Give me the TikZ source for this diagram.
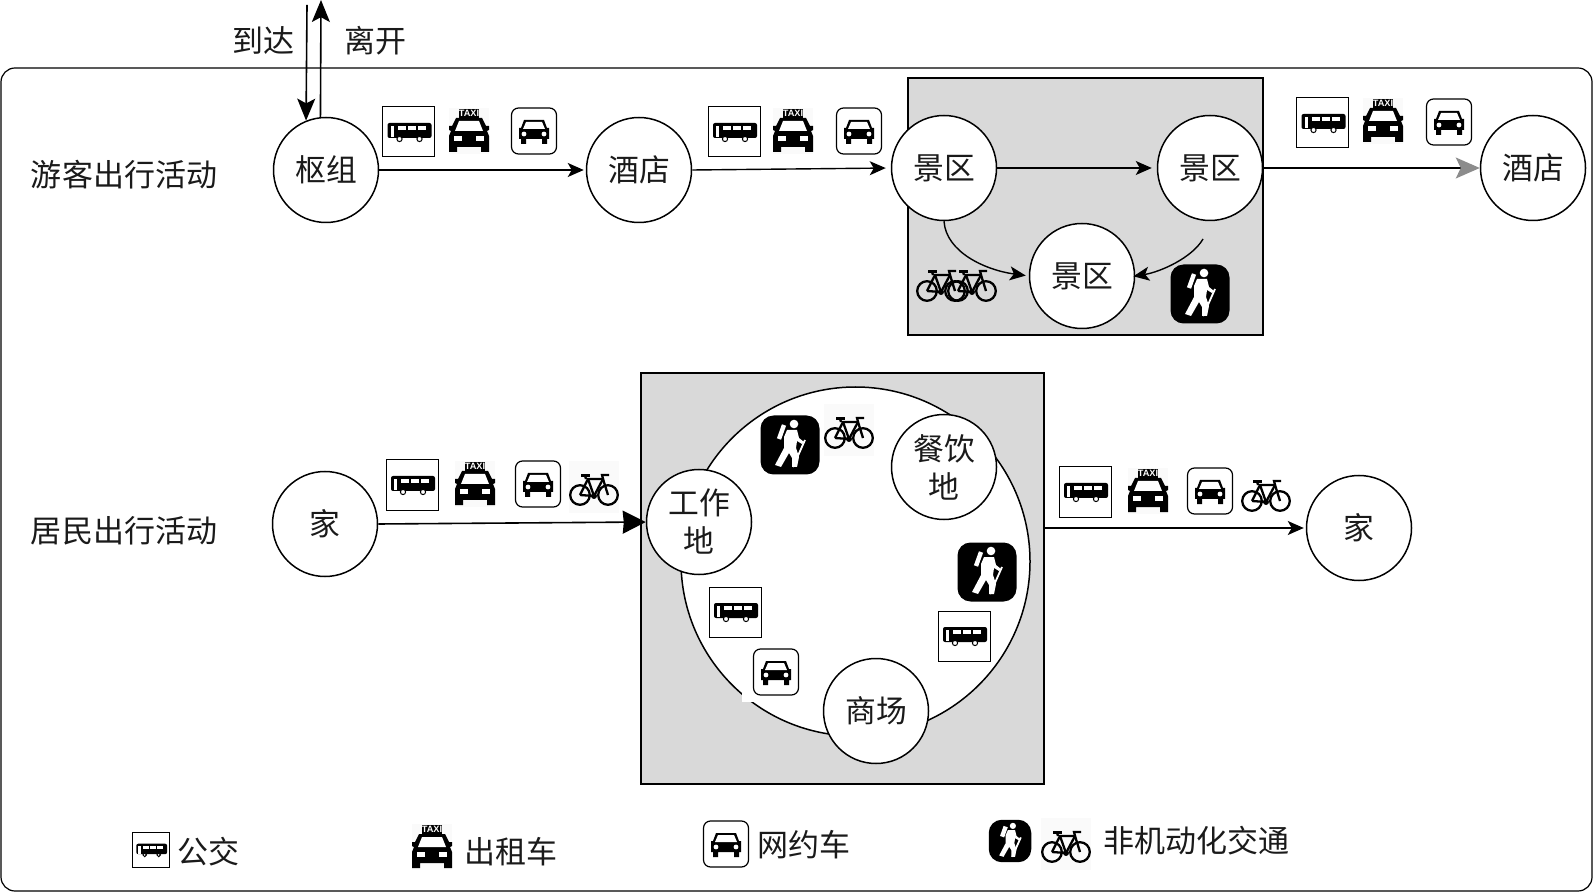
\documentclass[tikz,border=0pt]{standalone}
\usepackage{fontspec}
\setmainfont{Noto Sans CJK SC}
\newfontfamily\latinbold{Liberation Sans}[BoldFont={Liberation Sans Bold}]
\usetikzlibrary{arrows.meta,calc}
\definecolor{boxgray}{HTML}{D9D9D9}
\definecolor{inktext}{HTML}{1A1A1A}
\tikzset{
  x=0.5pt,y=-0.5pt,
  place/.style={circle,draw=black,fill=white,line width=0.75pt,minimum size=52.5pt,inner sep=0pt,align=center,font=\fontsize{15.4}{19}\selectfont,text=inktext},
  rowlabel/.style={inner sep=0pt,font=\fontsize{15.5}{18}\selectfont,text=inktext},
  arrow/.style={line width=0.7pt,-{Stealth[length=8pt,width=7pt,inset=2pt]}},
  bigarrow/.style={line width=0.8pt,-{Stealth[length=11pt,width=9pt,inset=2.4pt]}},
  hugearrow/.style={line width=0.8pt,-{Stealth[length=11.5pt,width=11.5pt,inset=0.5pt]}},
  grayarrow/.style={line width=0.7pt,-{Stealth[length=12pt,width=10.5pt,inset=2.5pt,color=gray!90]}},
  zone/.style={draw=black,fill=boxgray,line width=0.75pt,inner sep=0pt},
  busicon/.pic={
    \draw[black,line width=0.5pt,fill=white] (-26,-25) rectangle (26,25);
    \fill[black,rounded corners=1pt] (-21,-9) rectangle (23,6);
    \fill[white] (-18,-6) rectangle (-15,5);
    \fill[white] (-11,-6) rectangle (-3,-2);
    \fill[white] (-1,-6) rectangle (7,-2);
    \fill[white] (9,-6) rectangle (17,-2);
    \draw[black,fill=white,line width=0.5pt] (-9,7) circle (2.6);
    \draw[black,fill=white,line width=0.5pt] (11,7) circle (2.6);
  },
  taxiicon/.pic={
    \fill[black!2] (-20,-22) rectangle (20,24);
    \fill[black] (-10,-21) rectangle (10,-12);
    \node[inner sep=0pt,text=white,font=\latinbold\bfseries\fontsize{4.6}{4.6}\selectfont] (-lbl) at (0,-16.5) {TAXI};
    \fill[black] (-13,-12)--(13,-12)--(17,-4)--(20,-4)--(20,0)--(18,1)--(20,6)--(20,22)--(12,22)--(12,17)--(-12,17)--(-12,22)--(-20,22)--(-20,6)--(-18,1)--(-20,0)--(-20,-4)--(-17,-4)--cycle;
    \fill[white] (-10,-9)--(10,-9)--(14,1)--(-14,1)--cycle;
    \fill[white] (-15,6) rectangle (-7,11);
    \fill[white] (7,6) rectangle (15,11);
  },
  caricon/.pic={
    \draw[black,fill=white,line width=0.6pt,rounded corners=3.5pt] (-22.5,-23) rectangle (22.5,23);
    \fill[black] (-10,-11)--(10,-11)--(13,-3)--(15,-3)--(15,8)--(13,8)--(13,13)--(8,13)--(8,8)--(-8,8)--(-8,13)--(-13,13)--(-13,8)--(-15,8)--(-15,-3)--(-13,-3)--cycle;
    \fill[white] (-8,-9)--(8,-9)--(11,-2)--(-11,-2)--cycle;
    \fill[white] (-10,3) circle (2.4);
    \fill[white] (10,3) circle (2.4);
  },
  bikeicon/.pic={
    \begin{scope}[line width=1.15pt,draw=black]
    \draw (-14,8) circle (9.8);
    \draw (14,8) circle (9.8);
    \draw (-14,8)--(-6,-8)--(9,-8)--(14,8);
    \draw (-14,8)--(0,9)--(9,-8);
    \draw (-6,-8)--(0,9);
    \draw (-8,-8)--(-9,-11.5);
    \draw (-13,-11.5)--(-4,-11.5);
    \draw (9,-8)--(8,-12)--(15,-12);
    \fill[black] (0,9) circle (3);
    \end{scope}
  },
  graybg/.pic={\fill[black!2] (-25,-26) rectangle (25,26);},
  hikericon/.pic={
    \fill[black,rounded corners=6.5pt] (-29.5,-29.5) rectangle (29.5,29.5);
    \fill[white] (4,-21) circle (4.3);
    \fill[white] (-3,-15)--(7,-15)--(9,-7)--(14,-3)--(12,-1)--(7,-4)--(6,3)--(9,12)--(7,22)--(2,22)--(2,13)--(-1,8)--(-9,22)--(-15,20)--(-6,3)--(-6,-8)--cycle;
    \draw[white,line width=0.9pt] (15,-5)--(3,22);
    \draw[white,line width=2.2pt] (-6,-20)--(-11,-6);
  },
}
\begin{document}
\begin{tikzpicture}
\useasboundingbox (0,0) rectangle (1594,892);
\node[draw=black,line width=0.6pt,rounded corners=7pt,minimum width=795.5pt,minimum height=411.5pt,inner sep=0pt] (frame) at (796.5,479.5) {};

% zones
\node[zone,minimum width=177.5pt,minimum height=128.5pt] (zoneA) at (1085.5,206.5) {};
\node[zone,minimum width=201.5pt,minimum height=205.5pt] (zoneB) at (842.5,578.5) {};
\node[circle,draw=black,fill=white,line width=0.75pt,minimum size=174.5pt,inner sep=0pt] (ring) at (855.5,561.5) {};
\fill[white] (742,682) rectangle (762,702);

% places
\node[place] (hub) at (326,170) {枢组};
\node[place] (hotelA) at (639,170) {酒店};
\node[place] (siteA) at (944,168) {景区};
\node[place] (siteB) at (1210,168) {景区};
\node[place] (siteC) at (1082,276) {景区};
\node[place] (hotelB) at (1533,168) {酒店};
\node[place] (homeA) at (325,524) {家};
\node[place] (homeB) at (1359,528) {家};
\node[place] (work) at (699,522) {工作\\地};
\node[place] (food) at (944,467) {餐饮\\地};
\node[place] (mall) at (876,711) {商场};

% labels
\node[rowlabel] (rowA) at (124,175) {游客出行活动};
\node[rowlabel] (rowB) at (124,531) {居民出行活动};
\node[rowlabel] (lblIn) at (263,41) {到达};
\node[rowlabel] (lblOut) at (375,41) {离开};
\node[rowlabel] (legA) at (208,852) {公交};
\node[rowlabel] (legB) at (511,852) {出租车};
\node[rowlabel] (legC) at (804,845) {网约车};
\node[rowlabel] (legD) at (1196,841) {非机动化交通};

% connectors
\coordinate (inStart) at (307,5);
\coordinate (outEnd) at (321,0);
\coordinate (siteBout) at (1203,239);
\draw[bigarrow] (inStart) -- (hub.112);
\draw[bigarrow] (hub.96) -- (outEnd);
\draw[arrow,shorten >=1pt] (hub.east) -- (hotelA.west);
\draw[arrow,shorten >=2.5pt] (hotelA.east) -- (siteA.west);
\draw[arrow,shorten >=2.5pt] (siteA.east) -- (siteB.west);
\draw[grayarrow] (siteB.east) -- (hotelB.west);
\draw[arrow,shorten >=1.5pt] (siteA.south) .. controls (946,252) and (985,270) .. (siteC.west);
\draw[arrow,shorten >=-1pt] (siteBout) .. controls (1192,258) and (1160,272) .. (siteC.east);
\draw[hugearrow] (homeA.east) -- (work.west);
\draw[arrow,shorten >=1pt] (zoneB.east |- homeB) -- (homeB.west);

% icons row 1
\pic at (408.5,132) {busicon};
\pic at (469,130) {taxiicon};
\pic at (534,131) {caricon};
\pic at (734,132) {busicon};
\pic at (793,130) {taxiicon};
\pic at (859,131) {caricon};
\pic at (1322.5,123) {busicon};
\pic at (1383,120) {taxiicon};
\pic at (1449,122) {caricon};
\pic at (941,283) {bikeicon};
\pic at (972,283) {bikeicon};
\pic at (1200,294) {hikericon};
% icons row 2
\pic at (412,485) {busicon};
\pic at (475,483) {taxiicon};
\pic at (538,484) {caricon};
\pic at (594,487) {graybg};
\pic at (594,487) {bikeicon};
\pic at (1085,492) {busicon};
\pic at (1148,490) {taxiicon};
\pic at (1210,491) {caricon};
\pic at (1266,493) {bikeicon};
% icons in ring
\pic at (790,445) {hikericon};
\pic at (849,430) {graybg};
\pic at (849,430) {bikeicon};
\pic at (987,572) {hikericon};
\pic at (964,636) {busicon};
\pic at (735,612) {busicon};
\pic at (776,672) {caricon};
% legend
\pic[scale=0.7] at (151,850) {busicon};
\pic at (432,846) {taxiicon};
\pic at (726,844) {caricon};
\pic[scale=0.72] at (1010,841) {hikericon};
\pic at (1066,844) {graybg};
\pic at (1066,844) {bikeicon};
\end{tikzpicture}
\end{document}
